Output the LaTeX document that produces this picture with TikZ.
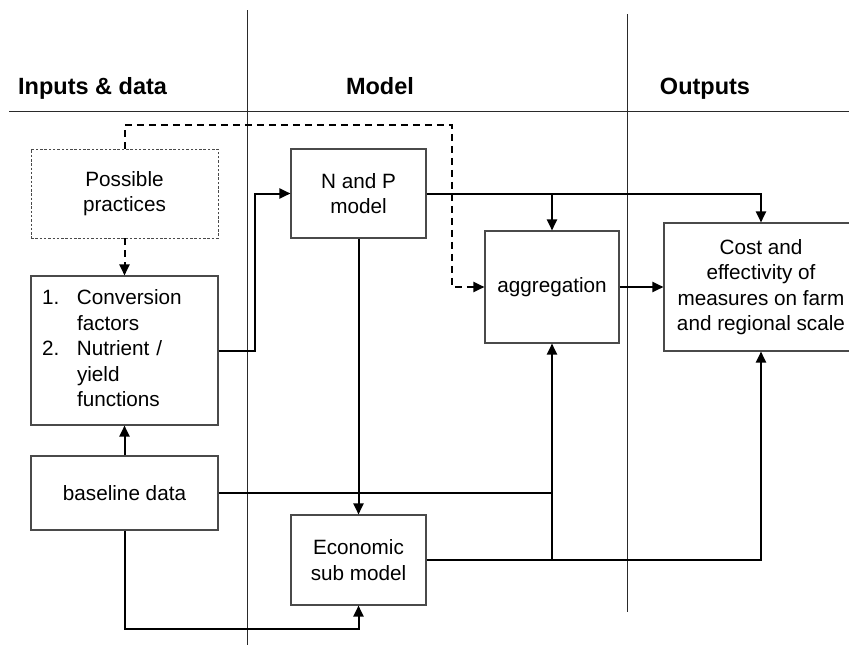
\documentclass[tikz,border=0pt]{standalone}
\usepackage{fontspec}
\setmainfont{Liberation Sans}
\usetikzlibrary{positioning, calc, arrows.meta}
\definecolor{Ink}{HTML}{000000}
\definecolor{Frame}{HTML}{4A4A4A}
\definecolor{Rule}{HTML}{2A2A2A}
\tikzset{
    box/.style={rectangle, draw=Frame, line width=1.1pt, align=center, inner sep=0pt, font=\fontsize{20.7}{25.5}\selectfont},
    optbox/.style={box, line width=0.9pt, dash pattern=on 2.5pt off 1.8pt},
    header/.style={inner sep=0pt, anchor=base, font=\bfseries\fontsize{23.5}{28}\selectfont},
    divider/.style={line width=1pt, color=Rule},
    plain/.style={line width=2pt, color=Ink},
    flow/.style={plain, -{Triangle[length=11pt,width=10pt]}},
    dashflow/.style={flow, dash pattern=on 7pt off 5pt},
}

\begin{document}
\begin{tikzpicture}[x=1pt, y=-1pt]
    \clip (0,0) rectangle (849,645);

    % Column dividers and header rule
    \draw[divider] (247,10) -- (247,645);
    \draw[divider] (627,14) -- (627,612);
    \draw[divider] (9,111) -- (849,111);

    % Column headers
    \node[header, anchor=base west] (hin) at (18,94) {Inputs \& data};
    \node[header] (hmodel) at (380,94) {Model};
    \node[header] (hout) at (705,94) {Outputs};

    % Inputs & data
    \node[optbox, minimum width=187pt, minimum height=89pt] (pp) at (124.5,193.5) {Possible\\practices};
    \node[box, minimum width=187pt, minimum height=149pt, text width=165pt, inner xsep=11pt, align=left] (conv) at (124.5,350.5)
        {\begin{tabular}{@{}p{35pt}@{}l@{}}
            1. & Conversion\\
               & factors\\
            2. & Nutrient /\\
               & yield\\
               & functions
         \end{tabular}};
    \node[box, minimum width=187pt, minimum height=74pt] (base) at (124.5,493) {baseline data};

    % Model
    \node[box, minimum width=135pt, minimum height=89pt] (npm) at (358.5,193.5) {N and P\\model};
    \node[box, minimum width=135pt, minimum height=90pt] (econ) at (358.5,560) {Economic\\sub model};
    \node[box, minimum width=134pt, minimum height=112pt] (agg) at (552,287) {aggregation};

    % Outputs (box runs past the right edge)
    \node[box, minimum width=194pt, minimum height=128pt] (out) at (761,287)
        {Cost and\\effectivity of\\measures on farm\\and regional scale};

    % Dashed links from the possible practices
    \coordinate (dtop) at (452,125);
    \draw[dashflow] (pp.north) |- (dtop) |- (agg.west);
    \draw[dashflow] (pp.south) -- (conv.north);

    % Solid links
    \draw[flow] (conv.east) -| ($(conv.east)!0.5!(npm.west)$) |- (npm.west);
    \draw[flow] (npm.east) -| (out.north);
    \draw[flow] (npm.east -| agg.north) -- (agg.north);
    \draw[flow] (npm.south) -- (econ.north);
    \draw[flow] (agg.east) -- (out.west);
    \draw[flow] (base.north) -- (conv.south);
    \draw[plain] (base.east) -- (base.east -| agg.south);
    \draw[flow] (econ.east) -| (out.south);
    \draw[flow] (econ.east -| agg.south) -- (agg.south);
    \coordinate (low) at (124.5,629);
    \draw[flow] (base.south) -- (low) -| (econ.south);
\end{tikzpicture}
\end{document}
